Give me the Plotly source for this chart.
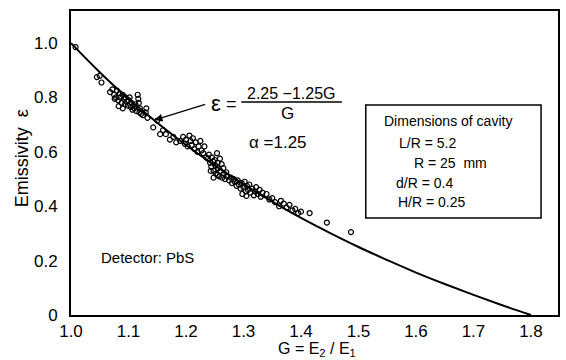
import plotly.graph_objects as go

# ---- data ----
meas_g = [1.008, 1.045, 1.05, 1.053,
          1.068, 1.072, 1.075, 1.078, 1.08, 1.082, 1.085, 1.086, 1.088, 1.09, 1.092, 1.094, 1.095,
          1.097, 1.099, 1.10, 1.102, 1.104, 1.105, 1.107, 1.108, 1.11, 1.112, 1.114, 1.116, 1.117,
          1.118, 1.119, 1.12, 1.122, 1.125, 1.13, 1.131, 1.133, 1.076, 1.083, 1.09,
          1.143, 1.15, 1.155, 1.16, 1.165, 1.172, 1.178, 1.183,
          1.19, 1.195, 1.198, 1.2, 1.203, 1.206, 1.208, 1.21, 1.212, 1.215, 1.217, 1.22, 1.222,
          1.225, 1.227, 1.23, 1.232, 1.235,
          1.238, 1.24, 1.242, 1.244, 1.245, 1.247, 1.248, 1.25, 1.251, 1.252, 1.254, 1.255, 1.256,
          1.258, 1.259, 1.26, 1.262, 1.263, 1.265, 1.266, 1.268, 1.27, 1.248, 1.255, 1.243,
          1.272, 1.275, 1.278, 1.28, 1.283, 1.285, 1.288, 1.29, 1.292, 1.295, 1.297, 1.30, 1.302,
          1.304, 1.306, 1.308, 1.31, 1.312, 1.315, 1.318, 1.32, 1.322, 1.325, 1.328, 1.33, 1.333,
          1.298, 1.305,
          1.34, 1.345, 1.35, 1.355, 1.362, 1.365, 1.37, 1.375, 1.38, 1.385, 1.39, 1.395, 1.40,
          1.415, 1.445, 1.487]
meas_eps = [0.985, 0.875, 0.88, 0.855,
            0.82, 0.83, 0.81, 0.80, 0.825, 0.79, 0.815, 0.80, 0.78, 0.81, 0.795, 0.775, 0.80,
            0.785, 0.77, 0.79, 0.80, 0.765, 0.78, 0.755, 0.77, 0.76, 0.775, 0.75, 0.81, 0.795,
            0.78, 0.745, 0.76, 0.74, 0.735, 0.745, 0.76, 0.725, 0.795, 0.768, 0.76,
            0.69, 0.715, 0.665, 0.68, 0.665, 0.645, 0.655, 0.635,
            0.64, 0.655, 0.63, 0.645, 0.62, 0.66, 0.64, 0.625, 0.65, 0.61, 0.635, 0.60, 0.62,
            0.64, 0.605, 0.595, 0.62, 0.58,
            0.575, 0.59, 0.56, 0.545, 0.58, 0.565, 0.53, 0.57, 0.55, 0.52, 0.595, 0.56, 0.54,
            0.51, 0.575, 0.53, 0.555, 0.505, 0.54, 0.52, 0.50, 0.525, 0.505, 0.515, 0.53,
            0.51, 0.495, 0.505, 0.485, 0.50, 0.49, 0.475, 0.495, 0.48, 0.465, 0.485, 0.47, 0.49,
            0.455, 0.475, 0.46, 0.48, 0.45, 0.465, 0.44, 0.455, 0.47, 0.445, 0.46, 0.435, 0.45,
            0.445, 0.438,
            0.445, 0.425, 0.43, 0.415, 0.40, 0.42, 0.41, 0.395, 0.405, 0.385, 0.39, 0.375, 0.38,
            0.375, 0.34, 0.305]

curve_g = [1.0, 1.05, 1.1, 1.15, 1.2, 1.25, 1.3, 1.35, 1.4, 1.45, 1.5, 1.55, 1.6, 1.65, 1.7,
           1.75, 1.8]
curve_eps = [1.0, 0.893, 0.795, 0.707, 0.625, 0.55, 0.481, 0.417, 0.357, 0.302, 0.25, 0.202,
             0.156, 0.114, 0.074, 0.036, 0.0]

x_ticks = [1.0, 1.1, 1.2, 1.3, 1.4, 1.5, 1.6, 1.7, 1.8]
x_ticktext = ["1.0", "1.1", "1.2", "1.3", "1.4", "1.5", "1.6", "1.7", "1.8"]
y_ticks = [0, 0.2, 0.4, 0.6, 0.8, 1.0]
y_ticktext = ["0", "0.2", "0.4", "0.6", "0.8", "1.0"]

# ---- layout geometry (pixels) ----
W, H = 566, 360
ML, MR, MT, MB = 71, 6, 11, 45
PW, PH = W - ML - MR, H - MT - MB


def px(x):
    return (x - ML) / PW


def py(y):
    return (H - MB - y) / PH


FONT = "Liberation Sans"

fig = go.Figure()
fig.add_trace(go.Scatter(x=curve_g, y=curve_eps, mode="lines",
                         line=dict(color="black", width=2, shape="spline"),
                         hoverinfo="skip", showlegend=False))
fig.add_trace(go.Scatter(x=meas_g, y=meas_eps, mode="markers",
                         marker=dict(symbol="circle-open", size=5, color="black",
                                     line=dict(width=1.2, color="black")),
                         showlegend=False))

ann = []


def txt(t, x, y, size, xanchor="center", yanchor="middle", angle=0):
    ann.append(dict(text=t, x=px(x), y=py(y), xref="paper", yref="paper",
                    xanchor=xanchor, yanchor=yanchor, showarrow=False, textangle=angle,
                    font=dict(family=FONT, size=size, color="black")))


txt("Emissivity  ε", 22, 158, 18, angle=-90)
txt("G = E<sub>2</sub> / E<sub>1</sub>", 318, 349, 16)
txt("ε", 217, 103, 22)
txt("=", 232, 104, 18)
txt("2.25 −1.25G", 292, 93, 16)
txt("G", 288, 114, 17)
txt("α =1.25", 279, 142, 17)
txt("Detector: PbS", 148, 257, 15)
txt("Dimensions of cavity", 450, 121, 14)
txt("L/R = 5.2", 398, 143, 14, xanchor="left")
txt("R = 25  mm", 413, 163, 14, xanchor="left")
txt("d/R = 0.4", 395, 183, 14, xanchor="left")
txt("H/R = 0.25", 397, 202, 14, xanchor="left")

# arrow pointing at the curve
ann.append(dict(x=px(155), y=py(120), xref="paper", yref="paper", text="",
                showarrow=True, ax=52, ay=-16, arrowhead=2, arrowsize=1.2,
                arrowwidth=1.3, arrowcolor="black"))

shapes = [
    dict(type="line", xref="paper", yref="paper", x0=px(242), x1=px(343), y0=py(102),
         y1=py(102), line=dict(color="black", width=1.5)),
    dict(type="rect", xref="paper", yref="paper", x0=px(367), x1=px(543), y0=py(105),
         y1=py(218), line=dict(color="black", width=1.5)),
]

fig.update_layout(
    width=W, height=H, margin=dict(l=ML, r=MR, t=MT, b=MB),
    paper_bgcolor="white", plot_bgcolor="white",
    annotations=ann, shapes=shapes,
    font=dict(family=FONT, size=17, color="black"),
    xaxis=dict(range=[1.0, 1.847], tickvals=x_ticks, ticktext=x_ticktext, showgrid=False,
               zeroline=False, showline=True, linecolor="black", linewidth=2, mirror=True,
               ticks="", ticklabelstandoff=0, tickfont=dict(size=17)),
    yaxis=dict(range=[0, 1.118], tickvals=y_ticks, ticktext=y_ticktext, showgrid=False,
               zeroline=False, showline=True, linecolor="black", linewidth=2, mirror=True,
               ticks="", ticklabelstandoff=8, tickfont=dict(size=17)),
)

fig.write_html("out.html")
